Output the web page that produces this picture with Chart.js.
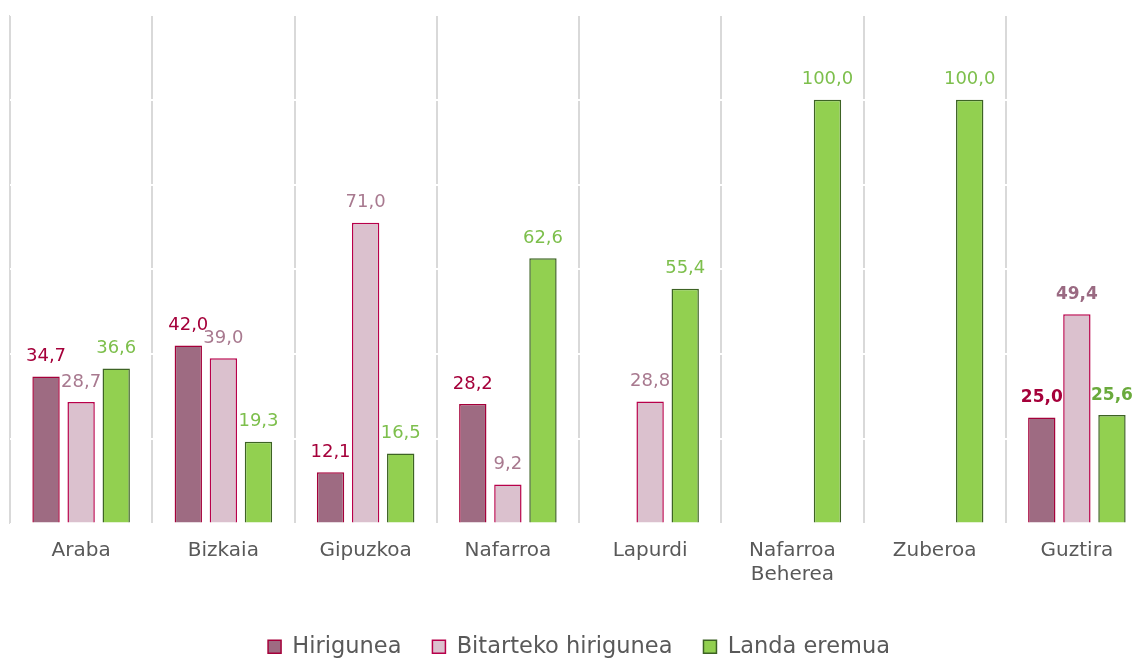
<!DOCTYPE html>
<html>
<head>
<meta charset="utf-8">
<script src="https://cdn.jsdelivr.net/npm/chart.js@4/dist/chart.umd.min.js"></script>
<style>
  html, body { margin: 0; padding: 0; background: #fff; overflow: hidden; }
  #wrap { width: 1148px; height: 672px; }
</style>
</head>
<body>
<div id="wrap"><canvas id="myChart"></canvas></div>
<script>
// data
const categories = ['Araba', 'Bizkaia', 'Gipuzkoa', 'Nafarroa', 'Lapurdi', ['Nafarroa', 'Beherea'], 'Zuberoa', 'Guztira'];
const hirigunea = [34.7, 42.0, 12.1, 28.2, null, null, null, 25.0];
const bitarteko = [28.7, 39.0, 71.0, 9.2, 28.8, null, null, 49.4];
const landa = [36.6, 19.3, 16.5, 62.6, 55.4, 100.0, 100.0, 25.6];
const seriesNames = ['Hirigunea', 'Bitarteko hirigunea', 'Landa eremua'];

const FONT = '"DejaVu Sans", sans-serif';
const labelColors = ['#a5003a', '#a8798f', '#7dbf4c'];
const boldColors = ['#a5003a', '#9a6a82', '#6aaa3c'];

// draws the value over each bar, last category in bold
const valueLabels = {
    id: 'valueLabels',
    afterDatasetsDraw: function(chart) {
        const ctx = chart.ctx;
        chart.data.datasets.forEach(function(ds, i) {
            const meta = chart.getDatasetMeta(i);
            meta.data.forEach(function(bar, j) {
                const v = ds.data[j];
                if (v === null || v === undefined) return;
                const last = j === ds.data.length - 1;
                ctx.save();
                ctx.font = (last ? 'bold 17px ' : '18px ') + FONT;
                ctx.fillStyle = last ? boldColors[i] : labelColors[i];
                ctx.textAlign = 'center';
                ctx.textBaseline = 'bottom';
                ctx.fillText(v.toFixed(1).replace('.', ','), bar.x, bar.y - 11);
                ctx.restore();
            });
        });
    }
};

const chartConfig = {
    type: 'bar',
    data: {
        labels: categories,
        datasets: [{
            label: seriesNames[0],
            data: hirigunea,
            backgroundColor: '#9e6b82',
            borderColor: '#a5003a',
            borderWidth: 1.5,
        },
        {
            label: seriesNames[1],
            data: bitarteko,
            backgroundColor: '#dbc1ce',
            borderColor: '#b8004a',
            borderWidth: 1.5,
        },
        {
            label: seriesNames[2],
            data: landa,
            backgroundColor: '#92d050',
            borderColor: '#3d6324',
            borderWidth: 1.5,
        }],
    },
    options: {
        responsive: true,
        maintainAspectRatio: false,
        animation: false,
        categoryPercentage: 0.74,
        barPercentage: 0.78,
        layout: { padding: { left: 10, top: 15, right: 0, bottom: 4 } },
        plugins: {
            tooltip: { enabled: false },
            legend: {
                position: 'bottom',
                labels: {
                    font: { family: FONT, size: 22.5 },
                    color: '#595959',
                    boxWidth: 13,
                    boxHeight: 13,
                    padding: 31,
                },
            },
        },
        scales: {
            x: {
                grid: { color: '#d9d9d9', lineWidth: 2, drawTicks: false, z: -2 },
                border: { display: false },
                ticks: {
                    color: '#595959',
                    font: { family: FONT, size: 20 },
                    padding: 15,
                    maxRotation: 0,
                    autoSkip: false,
                },
                afterFit: function(scale) { scale.height += 3; },
            },
            y: {
                min: 0,
                max: 120,
                ticks: { stepSize: 20, display: false },
                grid: { color: '#ffffff', lineWidth: 2, drawTicks: false, z: -1 },
                border: { display: false },
                afterFit: function(scale) { scale.width = 0; },
            },
        },
    },
    plugins: [valueLabels],
};

const myChart = new Chart(document.getElementById('myChart'), chartConfig);
</script>
</body>
</html>
